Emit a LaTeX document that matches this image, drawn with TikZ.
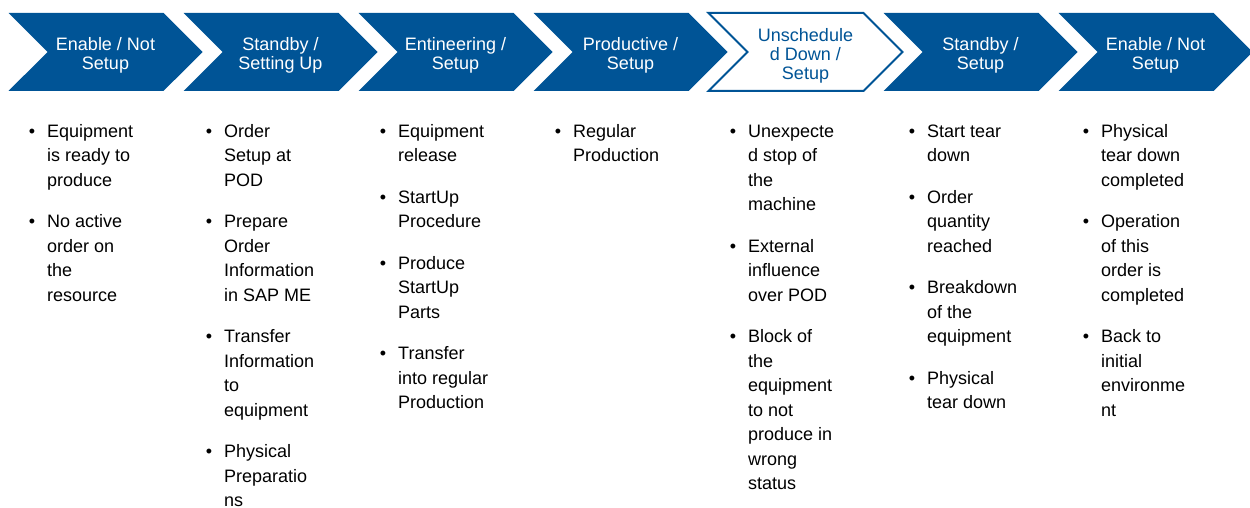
\documentclass[tikz,border=0pt]{standalone}
\usepackage{fontspec}
\setmainfont{Liberation Sans}
\usetikzlibrary{shapes.symbols, positioning}
\definecolor{cB}{RGB}{0,84,150}
\newcommand{\itm}{\llap{\textbullet\hspace{12pt}}\strut}
\newcommand{\hd}{\rule{0pt}{20pt}}

\begin{document}
\begin{tikzpicture}[x=1pt, y=-1pt,
    phase/.style={signal, signal to=east, signal from=west, signal pointer angle=90,
                  fill=cB, text=white, minimum width=194pt, minimum height=78pt,
                  inner sep=0pt, align=center, font=\fontsize{18}{19}\selectfont},
    current/.style={phase, fill=white, draw=cB, line width=2pt, text=cB},
    items/.style={anchor=north west, inner sep=0pt, align=left,
                  font=\fontsize{18}{24.5}\selectfont}]
    \useasboundingbox (0,0) rectangle (1250,508);

    % Phase Chevrons
    \node[phase]   (P1) at (105.5,52)  {\hd Enable / Not\\Setup};
    \node[phase]   (P2) at (280.5,52)  {\hd Standby /\\Setting Up};
    \node[phase]   (P3) at (455.5,52)  {\hd Entineering /\\Setup};
    \node[phase]   (P4) at (630.5,52)  {\hd Productive /\\Setup};
    \node[current] (P5) at (805.5,52)  {\hd Unschedule\\d Down /\\Setup};
    \node[phase]   (P6) at (980.5,52)  {\hd Standby /\\Setup};
    \node[phase]   (P7) at (1155.5,52) {\hd Enable / Not\\Setup};

    % Bullet Lists
    \node[items] (L1) at (47,120)   {\itm Equipment\\is ready to\\produce\\[17pt]
                                     \itm No active\\order on\\the\\resource};
    \node[items] (L2) at (224,120)  {\itm Order\\Setup at\\POD\\[17pt]
                                     \itm Prepare\\Order\\Information\\in SAP ME\\[17pt]
                                     \itm Transfer\\Information\\to\\equipment\\[17pt]
                                     \itm Physical\\Preparatio\\ns};
    \node[items] (L3) at (398,120)  {\itm Equipment\\release\\[17pt]
                                     \itm StartUp\\Procedure\\[17pt]
                                     \itm Produce\\StartUp\\Parts\\[17pt]
                                     \itm Transfer\\into regular\\Production};
    \node[items] (L4) at (573,120)  {\itm Regular\\Production};
    \node[items] (L5) at (748,120)  {\itm Unexpecte\\d stop of\\the\\machine\\[17pt]
                                     \itm External\\influence\\over POD\\[17pt]
                                     \itm Block of\\the\\equipment\\to not\\produce in\\wrong\\status};
    \node[items] (L6) at (927,120)  {\itm Start tear\\down\\[17pt]
                                     \itm Order\\quantity\\reached\\[17pt]
                                     \itm Breakdown\\of the\\equipment\\[17pt]
                                     \itm Physical\\tear down};
    \node[items] (L7) at (1101,120) {\itm Physical\\tear down\\completed\\[17pt]
                                     \itm Operation\\of this\\order is\\completed\\[17pt]
                                     \itm Back to\\initial\\environme\\nt};
\end{tikzpicture}
\end{document}
